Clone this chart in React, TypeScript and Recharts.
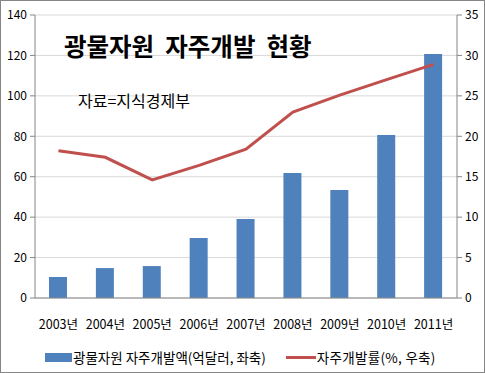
import React from 'react';
import {
  ComposedChart,
  Bar,
  Line,
  XAxis,
  YAxis,
  CartesianGrid,
  Legend
} from 'recharts';

const years = ['2003년', '2004년', '2005년', '2006년', '2007년', '2008년', '2009년', '2010년', '2011년'];
const amount = [10.4, 14.8, 15.8, 29.7, 39.1, 61.8, 53.4, 80.6, 120.7];
const rate = [18.2, 17.4, 14.6, 16.4, 18.4, 23.0, 25.1, 27.0, 28.9];
const leftTicks = [0, 20, 40, 60, 80, 100, 120, 140];
const rightTicks = [0, 5, 10, 15, 20, 25, 30, 35];
const edgeTicks = [0, 1, 2, 3, 4, 5, 6, 7, 8, 9];

const barName = '광물자원 자주개발액(억달러, 좌축)';
const lineName = '자주개발률(%, 우축)';

const FONT = '"Noto Sans CJK KR", "Noto Sans", sans-serif';
const AXIS = '#868686';
const BLUE = '#4F81BD';
const RED = '#C0504D';

const data = years.map((year, i) => ({ year, amount: amount[i], rate: rate[i] }));

const LegendContent = () => (
  <div style={{ display: 'flex', alignItems: 'center', fontFamily: FONT, fontSize: 13.5, color: '#000' }}>
    <span style={{ display: 'inline-block', width: 27, height: 9, background: BLUE, marginLeft: 45 }} />
    <span style={{ marginLeft: 1 }}>{barName}</span>
    <span style={{ display: 'inline-block', width: 30, height: 3, background: RED, marginLeft: 20 }} />
    <span style={{ marginLeft: 1, letterSpacing: 0.3 }}>{lineName}</span>
  </div>
);

export default function App() {
  return (
    <div style={{ position: 'fixed', left: 0, top: 0, width: 485, height: 373, background: '#fff' }}>
      <ComposedChart
        width={485}
        height={373}
        data={data}
        margin={{ top: 15, right: 0, bottom: 0, left: 0 }}
      >
        <CartesianGrid yAxisId="left" vertical={false} stroke="#d9d9d9" />
        <XAxis xAxisId="edges" type="number" domain={[0, 9]} ticks={edgeTicks} tick={false}
          axisLine={false} tickLine={{ stroke: AXIS }} tickSize={5} height={0} />
        <XAxis dataKey="year" tickLine={false} axisLine={{ stroke: AXIS }} height={49} tickMargin={16}
          interval={0} tick={{ fill: '#000', fontSize: 12.5, fontFamily: FONT }} />
        <YAxis yAxisId="left" domain={[0, 140]} ticks={leftTicks} width={35} tickSize={5}
          tickLine={{ stroke: AXIS }} axisLine={{ stroke: AXIS }} tickMargin={3}
          tick={{ fill: '#000', fontSize: 12, fontFamily: FONT }} />
        <YAxis yAxisId="right" orientation="right" domain={[0, 35]} ticks={rightTicks} width={28} tickSize={5}
          tickLine={{ stroke: AXIS }} axisLine={{ stroke: AXIS }} tickMargin={3}
          tick={{ fill: '#000', fontSize: 12, fontFamily: FONT }} />
        <Bar yAxisId="left" dataKey="amount" name={barName} fill={BLUE} barSize={18} isAnimationActive={false} />
        <Line yAxisId="right" dataKey="rate" name={lineName} stroke={RED} strokeWidth={3} dot={false}
          type="linear" isAnimationActive={false} />
        <Legend content={<LegendContent />} wrapperStyle={{ height: 26, left: 0, width: 485 }} />
      </ComposedChart>
      <div style={{ position: 'absolute', left: 64, top: 28, fontFamily: FONT, fontWeight: 700, fontSize: 24.5, color: '#000', whiteSpace: 'pre', letterSpacing: 0 }}>
        광물자원  자주개발  현황
      </div>
      <div style={{ position: 'absolute', left: 78, top: 88, fontFamily: FONT, fontSize: 16, color: '#000', whiteSpace: 'pre' }}>
        자료=지식경제부
      </div>
      <div style={{ position: 'absolute', left: 0, top: 0, width: 485, height: 373, boxSizing: 'border-box', border: '1px solid #868686', pointerEvents: 'none' }} />
    </div>
  );
}
